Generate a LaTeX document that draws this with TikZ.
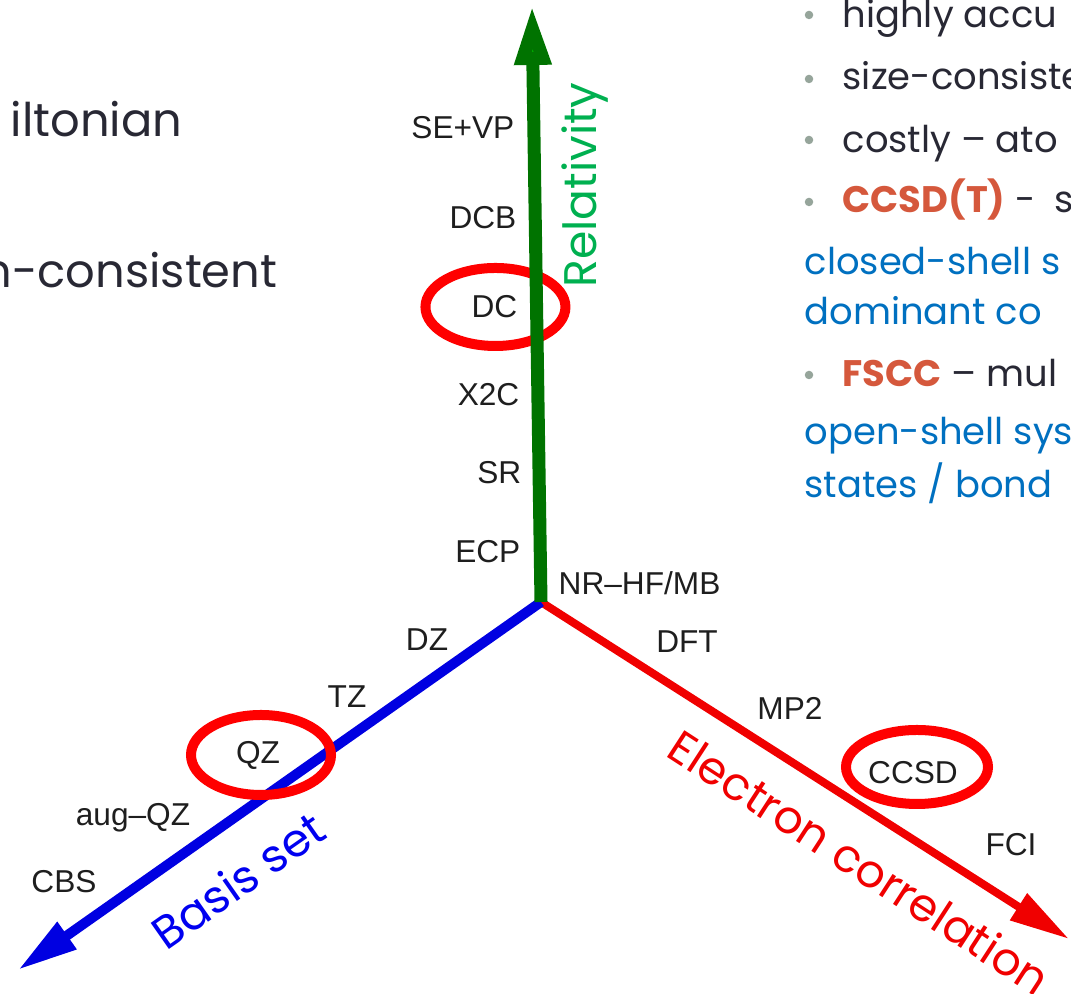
\documentclass[tikz,border=0pt]{standalone}
\usepackage{fontspec}
\setmainfont{Liberation Sans}
\newfontfamily\gothic[Ligatures=TeX]{Poppins}
\usetikzlibrary{arrows.meta}

\definecolor{labelblack}{RGB}{30,30,30}
\definecolor{textgray}{RGB}{40,40,52}
\definecolor{slideblue}{RGB}{0,112,192}
\definecolor{slideorange}{RGB}{213,88,60}
\definecolor{dotgray}{RGB}{150,165,155}
\definecolor{ringred}{RGB}{255,0,0}
\definecolor{axisred}{RGB}{240,0,0}
\definecolor{axisblue}{RGB}{0,0,225}
\definecolor{axisgreen}{RGB}{0,115,0}
\definecolor{headgreen}{RGB}{0,175,0}
\definecolor{relgreen}{RGB}{0,176,80}
\definecolor{basblue}{RGB}{0,0,240}

\begin{document}
\begin{tikzpicture}
    \tikzset{
      lbl/.style={inner sep=0pt, text=labelblack, font=\fontsize{9}{10}\selectfont},
      title/.style={inner sep=0pt, font=\gothic\fontsize{13}{15}\selectfont},
      slide/.style={inner sep=0pt, anchor=base west, font=\gothic\fontsize{10.5}{12}\selectfont},
      bigtext/.style={inner sep=0pt, anchor=base east, text=textgray, font=\gothic\fontsize{13.2}{16}\selectfont},
      dot/.style={circle, fill=dotgray, inner sep=0pt, minimum size=0.085cm},
      ring/.style={draw=ringred, line width=0.1cm},
      axis/.style={line width=#1},
      axhead/.style={-{Triangle[length=0.6cm, width=#1]}}
    }
    \useasboundingbox (0,0) rectangle (10.71,9.94);
    \clip (0,0) rectangle (10.71,9.94);

    % axes
    \coordinate (o) at (5.41,3.92);
    \coordinate (rel) at (5.32,9.89);
    \coordinate (bas) at (0.18,0.24);
    \coordinate (cor) at (10.69,0.55);
    \draw[axis=0.08cm, axisred, axhead=0.30cm] (o) -- (cor);
    \draw[axis=0.10cm, axisblue, axhead=0.31cm] (o) -- (bas);

    % relativity labels
    \node[lbl, anchor=east] (sevp) at (5.15,8.66) {SE+VP};
    \node[lbl, anchor=east] (dcb) at (5.17,7.76) {DCB};
    \node[lbl, anchor=east] (dc) at (5.18,6.87) {DC};
    \node[lbl, anchor=east] (x2c) at (5.20,5.99) {X2C};
    \node[lbl, anchor=east] (sr) at (5.22,5.21) {SR};
    \node[lbl, anchor=east] (ecp) at (5.21,4.42) {ECP};
    \node[lbl, anchor=west] (nrhf) at (5.58,4.11) {NR--HF/MB};

    % basis set labels
    \node[lbl] (dz) at (4.27,3.54) {DZ};
    \node[lbl] (tz) at (3.47,2.97) {TZ};
    \node[lbl] (qz) at (2.58,2.39) {QZ};
    \node[lbl] (augqz) at (1.33,1.76) {aug--QZ};
    \node[lbl] (cbs) at (0.64,1.12) {CBS};

    % correlation labels
    \node[lbl] (dft) at (6.87,3.52) {DFT};
    \node[lbl] (mp2) at (7.90,2.86) {MP2};
    \node[lbl] (ccsd) at (9.13,2.21) {CCSD};
    \node[lbl] (fci) at (10.11,1.49) {FCI};

    % rings
    \draw[ring] ([xshift=0.01cm]dc.center) ellipse [x radius=0.70, y radius=0.39];
    \draw[ring] ([xshift=0.03cm]qz.center) ellipse [x radius=0.70, y radius=0.40];
    \draw[ring] ([xshift=0.04cm,yshift=0.06cm]ccsd.center) ellipse [x radius=0.71, y radius=0.37];

    \draw[axis=0.13cm, axisgreen, -{Triangle[length=0.6cm, width=0.34cm, fill=headgreen]}] (o) -- (rel);

    % axis titles
    \node[title, text=relgreen, rotate=90] (relt) at (5.85,8.09) {Relativity};
    \node[title, text=basblue, rotate=35] (bast) at (2.38,1.14) {Basis set};
    \node[title, text=axisred, rotate=-33] (cort) at (8.60,1.32) {Electron correlation};

    % slide text, left
    \node[bigtext] (ham) at (1.83,8.57) {iltonian};
    \node[bigtext] (cons) at (2.78,7.06) {n-consistent};

    % slide text, right
    \node[dot] (b1) at (8.09,9.79) {};
    \node[dot] (b2) at (8.09,9.15) {};
    \node[dot] (b3) at (8.09,8.54) {};
    \node[dot] (b4) at (8.09,7.92) {};
    \node[dot] (b5) at (8.09,6.19) {};
    \node[slide, text=textgray] (acc) at (8.42,9.66) {highly accu};
    \node[slide, text=textgray] (size) at (8.42,9.04) {size-consiste};
    \node[slide, text=textgray] (cost) at (8.42,8.41) {costly -- ato};
    \node[slide, text=textgray] (ccsdt) at (8.42,7.81) {\textcolor{slideorange}{\bfseries CCSD(T)} -\enspace s};
    \node[slide, text=slideblue] (closed) at (8.04,7.19) {closed-shell s};
    \node[slide, text=slideblue] (dom) at (8.04,6.69) {dominant co};
    \node[slide, text=textgray] (fscc) at (8.42,6.07) {\textcolor{slideorange}{\bfseries FSCC} -- mul};
    \node[slide, text=slideblue] (open) at (8.04,5.49) {open-shell sys};
    \node[slide, text=slideblue] (states) at (8.04,4.96) {states / bond};
\end{tikzpicture}
\end{document}
